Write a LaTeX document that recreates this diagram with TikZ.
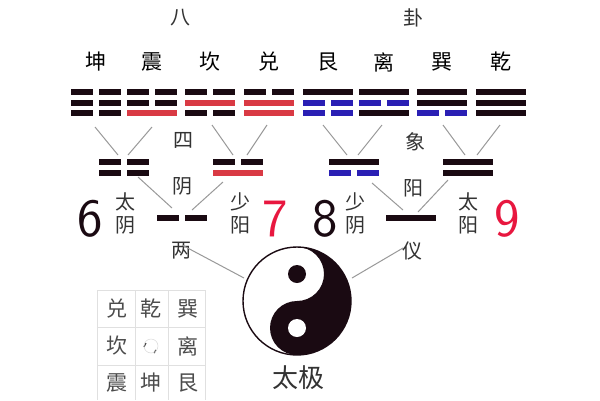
\documentclass[tikz,border=0pt]{standalone}
\usepackage{fontspec}
\setmainfont{Noto Sans CJK SC}
\begin{document}
\begin{tikzpicture}[x=1pt,y=-1pt,
  conn/.style={draw=black!40,line width=1pt},
  lbl/.style={text=black!80,font=\fontsize{20}{20}\selectfont,inner sep=0pt},
  nm/.style={text=black,font=\fontsize{21}{21}\selectfont,inner sep=0pt},
  num/.style={font=\fontsize{54}{54}\selectfont\sffamily,inner sep=0pt}]
\definecolor{kk}{HTML}{1A0A12}
\definecolor{rr}{HTML}{D93A44}
\definecolor{bb}{HTML}{2A1FB4}
\definecolor{nr}{HTML}{E8173F}
\useasboundingbox (0,0) rectangle (600,400);
\fill[white] (0,0) rectangle (600,400);
\newcommand\sbar[3]{\fill[#3] (#1-25,#2-3.1) rectangle (#1+25,#2+3.1);}
\newcommand\bbar[3]{\fill[#3] (#1-25,#2-3.1) rectangle (#1-3,#2+3.1); \fill[#3] (#1+3,#2-3.1) rectangle (#1+25,#2+3.1);}
% headings
\node[lbl] (ba) at (180,18) {八};
\node[lbl] (gua) at (413,18) {卦};
% trigram names
\foreach \x/\t in {96/坤,152/震,210/坎,269/兑,328/艮,384/离,442/巽,501/乾}
  \node[nm] at (\x,62) {\t};
% trigrams (top, mid, bottom)
\bbar{96}{92}{kk}\bbar{96}{103}{kk}\bbar{96}{113}{kk}
\bbar{152}{92}{kk}\bbar{152}{103}{kk}\sbar{152}{113}{rr}
\bbar{210}{92}{kk}\sbar{210}{103}{rr}\bbar{210}{113}{kk}
\bbar{269}{92}{kk}\sbar{269}{103}{rr}\sbar{269}{113}{rr}
\sbar{328}{92}{kk}\bbar{328}{103}{bb}\bbar{328}{113}{bb}
\sbar{384}{92}{kk}\bbar{384}{103}{bb}\sbar{384}{113}{kk}
\sbar{442}{92}{kk}\sbar{442}{103}{kk}\bbar{442}{113}{bb}
\sbar{501}{92}{kk}\sbar{501}{103}{kk}\sbar{501}{113}{kk}
% connectors trigram -> xiang
\draw[conn] (95,127)--(118,155); \draw[conn] (152,127)--(128,155);
\draw[conn] (212,125)--(233,155); \draw[conn] (267,125)--(247,155);
\draw[conn] (323,125)--(347,155); \draw[conn] (382,125)--(358,155);
\draw[conn] (443,125)--(465,155); \draw[conn] (500,125)--(477,155);
% xiang
\bbar{124}{162}{kk}\bbar{124}{173}{kk}
\bbar{238}{162}{kk}\sbar{238}{173}{rr}
\sbar{354}{162}{kk}\bbar{354}{173}{bb}
\sbar{468}{162}{kk}\sbar{468}{173}{kk}
\node[lbl] at (183,140) {四};
\node[lbl] at (415,142) {象};
% connectors xiang -> yi
\draw[conn] (138,177)--(172,208); \draw[conn] (223,182)--(192,210);
\draw[conn] (372,183)--(403,210); \draw[conn] (448,180)--(418,212);
% yi
\bbar{182}{218}{kk}
\sbar{411}{218}{kk}
\node[lbl] at (182,186) {阴};
\node[lbl] at (413,188) {阳};
\node[lbl] at (181,251) {两};
\node[lbl] at (412,251) {仪};
% labels
\foreach \x/\a/\b in {125/太/阴,240/少/阳,355/少/阴,468/太/阳}{
  \node[lbl] at (\x,202) {\a};
  \node[lbl] at (\x,225) {\b};}
\node[num,text=kk] at (90,219) {6};
\node[num,text=nr] at (275,219) {7};
\node[num,text=kk] at (325,219) {8};
\node[num,text=nr] at (507,219) {9};
% yi -> taiji
\draw[conn] (182,245)--(244,278);
\draw[conn] (403,248)--(352,278);
% taiji
\begin{scope}[shift={(297,301)},yscale=-1]
\fill[kk] (0,54) arc[start angle=90,end angle=-90,radius=54]
  arc[start angle=270,end angle=90,radius=27]
  arc[start angle=-90,end angle=90,radius=27] -- cycle;
\draw[kk,line width=1.4pt] (0,0) circle[radius=54];
\fill[kk] (0,27) circle[radius=9];
\fill[white] (0,-27) circle[radius=9];
\end{scope}
\node[font=\fontsize{26}{26}\selectfont,text=black!80,inner sep=0pt] at (298,378) {太极};
% grid
\draw[black!12,line width=0.6pt] (97,290)--(205,290) (97,327)--(205,327) (97,365)--(205,365)
  (97,290)--(97,400) (135,290)--(135,400) (168,290)--(168,400) (205,290)--(205,400);
\foreach \x/\y/\t in {117/309/兑,151/309/乾,188/309/巽,117/346/坎,188/346/离,117/383/震,151/383/坤,188/383/艮}
  \node[text=black!70,font=\fontsize{21}{21}\selectfont,inner sep=0pt] at (\x,\y) {\t};
\draw[black!70,line width=1.3pt] (146,343)--(144,347);
\draw[black!70,line width=1.3pt] (156,350)--(154,353);
\draw[black!15,line width=0.5pt] (151,346) circle[radius=7];
\end{tikzpicture}
\end{document}
